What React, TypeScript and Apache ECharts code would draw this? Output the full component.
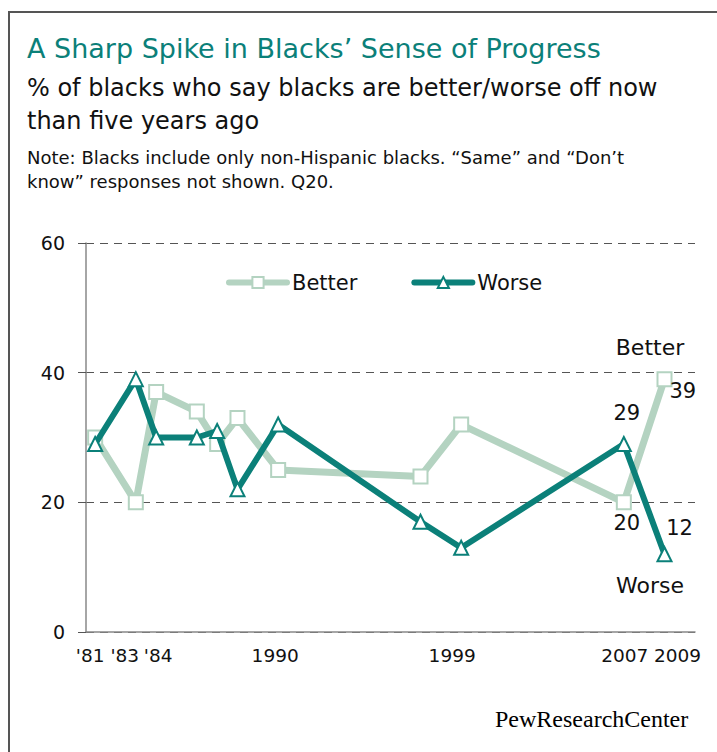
import React, { useEffect, useRef } from "react";
import * as echarts from "echarts";

// Survey years and shares (%) of blacks saying things are better / worse
const years = [1981, 1983, 1984, 1986, 1987, 1988, 1990, 1997, 1999, 2007, 2009];
const better = [30, 20, 37, 34, 29, 33, 25, 24, 32, 20, 39];
const worse = [29, 39, 30, 30, 31, 22, 32, 17, 13, 29, 12];

// Years shown on the horizontal axis, their printed labels and small nudges (px)
const tickYears = [1981, 1983, 1984, 1990, 1999, 2007, 2009];
const tickLabels = ["'81", "'83", "'84", "1990", "1999", "2007", "2009"];
const tickNudge = [-5, -11, 2, -3, -9, 1, 13];

const yTicks = [0, 20, 40, 60];

const FONT = "DejaVu Sans";
const LIGHT = "#b4d3c1";
const TEAL = "#0b8079";

export default function App() {
  const ref = useRef<HTMLDivElement>(null);

  useEffect(() => {
    if (!ref.current) return;
    const chart = echarts.init(ref.current, null, { renderer: "svg" });

    const last = years.length - 1;
    const betterData = years.map((y, i) => {
      const item: any = { value: [y, better[i]] };
      if (i === last) {
        item.label = { show: true, position: "right", distance: 0, offset: [-3, 12] };
      } else if (i === last - 1) {
        item.label = { show: true, position: "bottom", distance: 2, offset: [3, 0] };
      }
      return item;
    });
    const worseData = years.map((y, i) => {
      const item: any = { value: [y, worse[i]] };
      if (i === last) {
        item.label = { show: true, position: "top", distance: 8, offset: [15, 0] };
      } else if (i === last - 1) {
        item.label = { show: true, position: "top", distance: 12, offset: [3, 0] };
      }
      return item;
    });

    const labelStyle = {
      fontFamily: FONT,
      fontSize: 21,
      color: "#111",
      formatter: (p: any) => String(p.value[1]),
    };

    // per-label rich styles: padding on one side shifts a centred label sideways
    const tickRich: Record<string, any> = {};
    tickNudge.forEach((dx, i) => {
      tickRich["t" + i] = {
        fontFamily: FONT,
        fontSize: 18.5,
        color: "#111",
        padding: dx >= 0 ? [0, 0, 0, 2 * dx] : [0, -2 * dx, 0, 0],
      };
    });

    chart.setOption({
      animation: false,
      textStyle: { fontFamily: FONT },
      grid: { left: 86, right: 22, top: 243, bottom: 120, containLabel: false },
      legend: {
        left: 221,
        top: 267,
        itemGap: 54,
        itemWidth: 58,
        itemHeight: 14,
        textStyle: { fontFamily: FONT, fontSize: 21, color: "#111" },
        lineStyle: { width: 6, cap: "round" },
        data: ["Better", "Worse"],
      },
      xAxis: {
        type: "value",
        min: 1980.55,
        max: 2010.5,
        splitLine: { show: false },
        axisTick: { show: false },
        axisLine: { lineStyle: { color: "#888", width: 1.5 } },
        axisLabel: {
          customValues: tickYears,
          hideOverlap: false,
          margin: 14,
          fontFamily: FONT,
          fontSize: 18.5,
          color: "#111",
          rich: tickRich,
          formatter: (v: number) => {
            const i = tickYears.indexOf(Math.round(v));
            return i >= 0 ? `{t${i}|${tickLabels[i]}}` : "";
          },
        },
      },
      yAxis: {
        type: "value",
        min: 0,
        max: 60,
        interval: 20,
        axisLine: { show: true, lineStyle: { color: "#888", width: 1.5 } },
        axisTick: { show: true, length: 8, lineStyle: { color: "#555", width: 1 } },
        splitLine: {
          show: true,
          lineStyle: { color: "#555", width: 1, type: [8, 6] },
        },
        axisLabel: {
          margin: 21,
          fontFamily: FONT,
          fontSize: 19,
          color: "#111",
          formatter: (v: number) => (yTicks.includes(v) ? String(v) : ""),
        },
      },
      series: [
        {
          name: "Better",
          type: "line",
          data: betterData,
          z: 2,
          symbol: "rect",
          symbolSize: 14,
          lineStyle: { color: LIGHT, width: 7 },
          itemStyle: { color: "#fff", borderColor: LIGHT, borderWidth: 2 },
          label: labelStyle,
          emphasis: { disabled: true },
        },
        {
          name: "Worse",
          type: "line",
          data: worseData,
          z: 3,
          symbol: "triangle",
          symbolSize: 14,
          lineStyle: { color: TEAL, width: 6 },
          itemStyle: { color: "#fff", borderColor: TEAL, borderWidth: 2 },
          label: labelStyle,
          emphasis: { disabled: true },
        },
      ],
      graphic: [
        {
          type: "rect",
          z: -1,
          shape: { x: 9, y: 12, width: 740, height: 780 },
          style: { fill: "none", stroke: "#555", lineWidth: 2 },
        },
        {
          type: "text",
          x: 27,
          y: 48,
          style: {
            text: "A Sharp Spike in Blacks\u2019 Sense of Progress",
            font: `27px "${FONT}"`,
            fill: "#0b8079",
            verticalAlign: "middle",
          },
        },
        {
          type: "text",
          x: 27,
          y: 71.5,
          style: {
            text: "% of blacks who say blacks are better/worse off now\nthan five years ago",
            font: `24px "${FONT}"`,
            lineHeight: 33,
            fill: "#111",
            verticalAlign: "top",
          },
        },
        {
          type: "text",
          x: 27,
          y: 145,
          style: {
            text:
              "Note: Blacks include only non-Hispanic blacks. \u201cSame\u201d and \u201cDon\u2019t\nknow\u201d responses not shown. Q20.",
            font: `18px "${FONT}"`,
            lineHeight: 24,
            fill: "#111",
            verticalAlign: "top",
          },
        },
        {
          type: "text",
          x: 650,
          y: 347,
          style: {
            text: "Better",
            font: `22px "${FONT}"`,
            fill: "#111",
            align: "center",
            verticalAlign: "middle",
          },
        },
        {
          type: "text",
          x: 650,
          y: 585,
          style: {
            text: "Worse",
            font: `22px "${FONT}"`,
            fill: "#111",
            align: "center",
            verticalAlign: "middle",
          },
        },
        {
          type: "text",
          x: 495,
          y: 719,
          style: {
            text: "{a|PewResearch}{b|Center}",
            verticalAlign: "middle",
            rich: {
              a: { fontFamily: "Liberation Serif", fontSize: 24, color: "#222" },
              b: { fontFamily: "Liberation Serif", fontSize: 24, color: "#888" },
            },
          },
        },
      ],
    });

    return () => chart.dispose();
  }, []);

  return (
    <div
      ref={ref}
      style={{ position: "fixed", left: 0, top: 0, width: 717, height: 752, background: "#fff" }}
    />
  );
}
